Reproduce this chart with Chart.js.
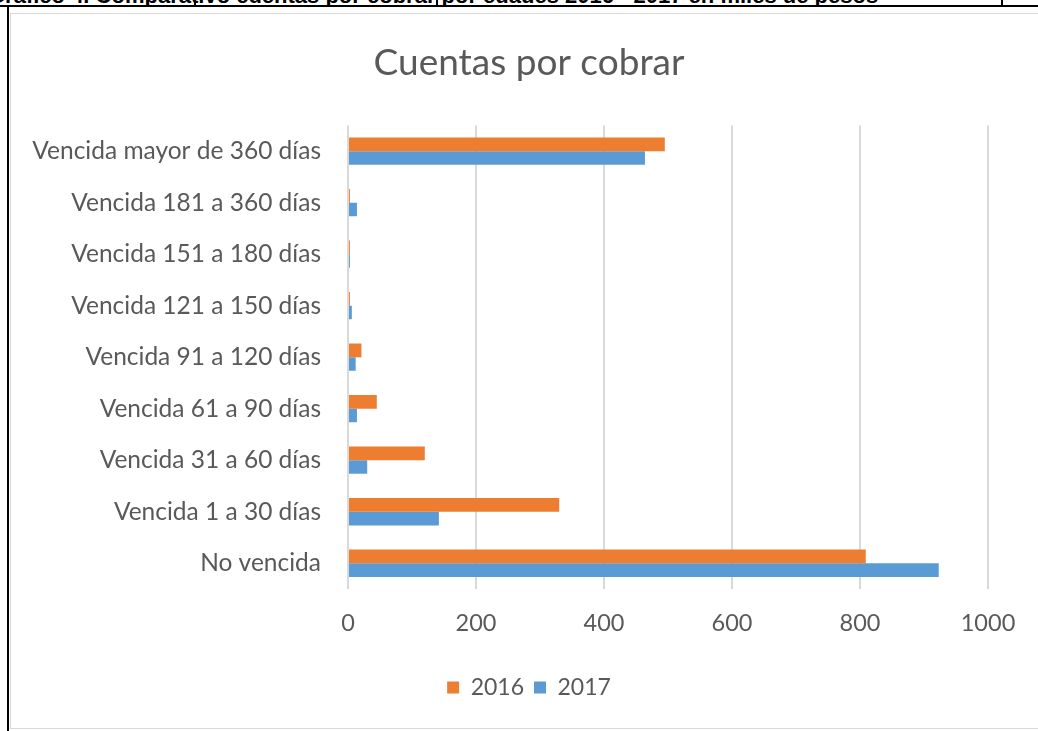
<!DOCTYPE html>
<html><head><meta charset="utf-8">
<script src="https://cdn.jsdelivr.net/npm/chart.js@4/dist/chart.umd.min.js"></script>
<style>
html,body{margin:0;padding:0;background:#fff;overflow:hidden;width:1038px;height:731px;}
#cap{position:absolute;left:0;top:0;width:1038px;height:5px;overflow:hidden;}
#cap span{position:absolute;left:-12px;top:-17px;font:bold 22px "Liberation Sans",Arial,sans-serif;white-space:nowrap;color:#000;}
#topline{position:absolute;left:0;top:5px;width:1038px;height:2px;background:#000;}
.vl{position:absolute;top:0;width:2px;height:6px;background:#000;}
#frameL{position:absolute;left:7px;top:5px;width:2px;height:726px;background:#000;}
#box{position:absolute;left:10px;top:13px;width:1060px;height:716px;border:1px solid #d9d9d9;box-sizing:border-box;}
#wrap{position:absolute;left:11px;top:14px;width:1036px;height:713px;}
</style></head>
<body>
<div id="cap"><span>Gráfico 4. Comparativo cuentas por cobrar por edades 2016 - 2017 en miles de pesos</span></div>
<div id="topline"></div>
<div class="vl" style="left:194px"></div>
<div class="vl" style="left:436px"></div>
<div class="vl" style="left:1001px"></div>
<div id="frameL"></div>
<div id="box"></div>
<div id="wrap"><canvas id="c"></canvas></div>
<script>
const categories = [
  "Vencida mayor de 360 días",
  "Vencida 181 a 360 días",
  "Vencida 151 a 180 días",
  "Vencida 121 a 150 días",
  "Vencida 91 a 120 días",
  "Vencida 61 a 90 días",
  "Vencida 31 a 60 días",
  "Vencida 1 a 30 días",
  "No vencida"
];
const values2016 = [495, 3, 3, 3, 21, 45, 120, 330, 809];
const values2017 = [464, 14, 3, 6, 12, 14, 30, 142, 923];
const xTicks = [0, 200, 400, 600, 800, 1000];

const FONT = "Lato, 'Open Sans', sans-serif";
const GREY = "#595959";

new Chart(document.getElementById('c'), {
  type: 'bar',
  data: {
    labels: categories,
    datasets: [
      { label: '2016', data: values2016, backgroundColor: '#ED7D31', borderWidth: 0,
        categoryPercentage: 0.53, barPercentage: 1.0 },
      { label: '2017', data: values2017, backgroundColor: '#5B9BD5', borderWidth: 0,
        categoryPercentage: 0.53, barPercentage: 1.0 }
    ]
  },
  options: {
    indexAxis: 'y',
    responsive: true,
    maintainAspectRatio: false,
    animation: false,
    layout: { padding: { left: 0, right: 0, top: 0, bottom: 18 } },
    plugins: {
      title: {
        display: true, text: 'Cuentas por cobrar', color: GREY,
        font: { family: FONT, size: 37, weight: 'normal' },
        padding: { top: 27, bottom: 40 }
      },
      legend: {
        display: true, position: 'bottom',
        labels: { color: GREY, font: { family: FONT, size: 23 }, boxWidth: 12, boxHeight: 12, padding: 10 }
      },
      tooltip: { enabled: false }
    },
    scales: {
      x: {
        min: 0, max: 1000,
        afterBuildTicks: (s) => { s.ticks = xTicks.map(v => ({ value: v })); },
        ticks: { color: GREY, font: { family: FONT, size: 23.5 }, padding: 20, maxRotation: 0,
                 callback: (v) => String(v) },
        grid: { color: '#d9d9d9', lineWidth: 2, drawTicks: false },
        border: { display: false },
        afterFit: (s) => { s.height = 77; s.paddingRight = 59; }
      },
      y: {
        ticks: { color: GREY, font: { family: FONT, size: 24.5 }, padding: 27 },
        grid: { display: false, drawTicks: false },
        border: { display: false },
        afterFit: (s) => { s.width = 337; }
      }
    }
  }
});
</script>
</body></html>
